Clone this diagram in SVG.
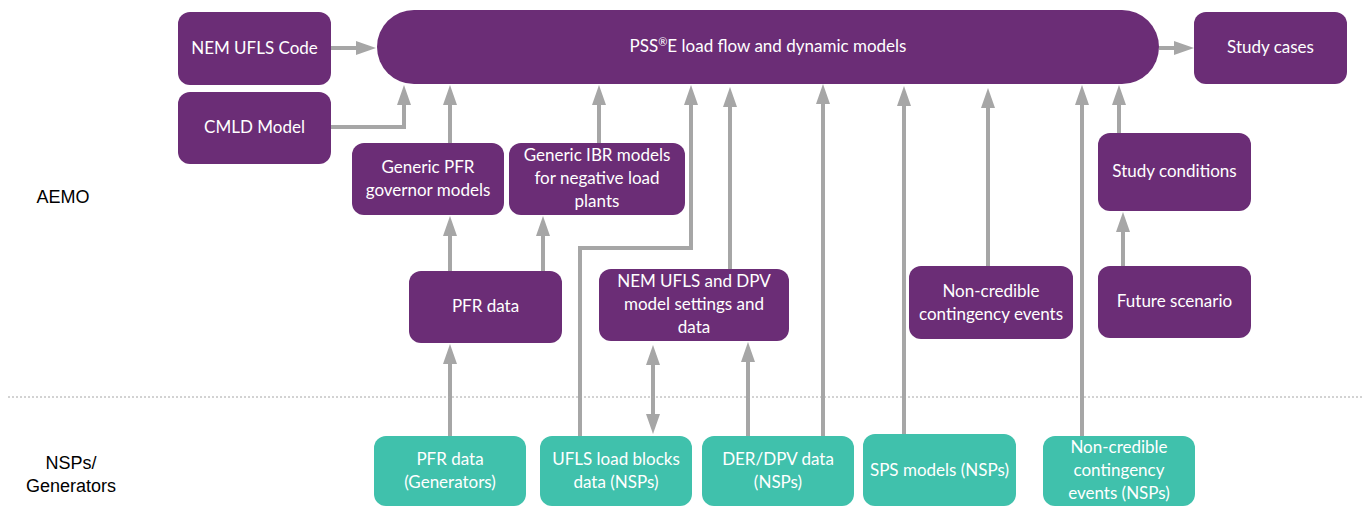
<svg xmlns="http://www.w3.org/2000/svg" width="1362" height="507" viewBox="0 0 1362 507">
<defs>
<style>
.p{fill:#6B2D76}
.t{fill:#40C1AC}
.lb{font-family:Lato,"Open Sans","Liberation Sans",sans-serif;font-size:17px;fill:#FFFFFF;text-anchor:middle}
.side{font-family:"Liberation Sans",Arial,sans-serif;font-size:18px;fill:#000000;text-anchor:middle}
.c{fill:none;stroke:#A6A6A6;stroke-width:4}
</style>
<marker id="ah" viewBox="0 0 20 14" refX="10" refY="7" markerWidth="20" markerHeight="14" markerUnits="userSpaceOnUse" orient="auto-start-reverse">
<path d="M0,0 L20,7 L0,14 z" fill="#A6A6A6"/>
</marker>
</defs>
<rect width="1362" height="507" fill="#FFFFFF"/>
<line x1="8" y1="397" x2="1362" y2="397" stroke="#A6A6A6" stroke-width="1" stroke-dasharray="2 2"/>
<text class="side" x="63" y="203">AEMO</text>
<text class="side" x="71" y="469">NSPs/</text>
<text class="side" x="71" y="492">Generators</text>
<g id="connectors">
<path class="c" d="M331,48 H366" marker-end="url(#ah)"/>
<path class="c" d="M331,127 H404 V95" marker-end="url(#ah)"/>
<path class="c" d="M450,143 V95" marker-end="url(#ah)"/>
<path class="c" d="M599,143 V95" marker-end="url(#ah)"/>
<path class="c" d="M580,436 V248 H691 V95" marker-end="url(#ah)"/>
<path class="c" d="M730,269 V97" marker-end="url(#ah)"/>
<path class="c" d="M823,436 V94" marker-end="url(#ah)"/>
<path class="c" d="M904,436 V96" marker-end="url(#ah)"/>
<path class="c" d="M988,266 V98" marker-end="url(#ah)"/>
<path class="c" d="M1082,436 V95" marker-end="url(#ah)"/>
<path class="c" d="M1119,133 V95" marker-end="url(#ah)"/>
<path class="c" d="M1159,48 H1184" marker-end="url(#ah)"/>
<path class="c" d="M1123,266 V222" marker-end="url(#ah)"/>
<path class="c" d="M450,271 V226" marker-end="url(#ah)"/>
<path class="c" d="M543,271 V226" marker-end="url(#ah)"/>
<path class="c" d="M450,436 V354" marker-end="url(#ah)"/>
<path class="c" d="M653,355 V424" marker-start="url(#ah)" marker-end="url(#ah)"/>
<path class="c" d="M748,436 V352" marker-end="url(#ah)"/>
</g>
<g id="pss">
<rect class="p" x="377" y="10" width="782" height="74" rx="37"/>
<text class="lb" x="768" y="52">PSS<tspan font-size="11" baseline-shift="super">®</tspan>E load flow and dynamic models</text>
</g>
<g id="nem-ufls-code">
<rect class="p" x="178" y="12" width="153" height="73" rx="12"/>
<text class="lb" x="254.5" y="54">NEM UFLS Code</text>
</g>
<g id="cmld">
<rect class="p" x="178" y="92" width="153" height="72" rx="12"/>
<text class="lb" x="254.5" y="133">CMLD Model</text>
</g>
<g id="generic-pfr">
<rect class="p" x="352" y="143" width="152" height="72" rx="12"/>
<text class="lb" x="428" y="173">Generic PFR</text>
<text class="lb" x="428" y="196">governor models</text>
</g>
<g id="generic-ibr">
<rect class="p" x="509" y="143" width="176" height="72" rx="12"/>
<text class="lb" x="597" y="161">Generic IBR models</text>
<text class="lb" x="597" y="184">for negative load</text>
<text class="lb" x="597" y="207">plants</text>
</g>
<g id="study-cases">
<rect class="p" x="1194" y="12" width="153" height="72" rx="12"/>
<text class="lb" x="1270.5" y="53">Study cases</text>
</g>
<g id="study-conditions">
<rect class="p" x="1098" y="133" width="153" height="78" rx="12"/>
<text class="lb" x="1174.5" y="177">Study conditions</text>
</g>
<g id="pfr-data">
<rect class="p" x="409" y="271" width="153" height="72" rx="12"/>
<text class="lb" x="485.5" y="312">PFR data</text>
</g>
<g id="nem-ufls-dpv">
<rect class="p" x="599" y="269" width="190" height="72" rx="12"/>
<text class="lb" x="694" y="287">NEM UFLS and DPV</text>
<text class="lb" x="694" y="310">model settings and</text>
<text class="lb" x="694" y="333">data</text>
</g>
<g id="non-credible">
<rect class="p" x="909" y="266" width="164" height="73" rx="12"/>
<text class="lb" x="991" y="297">Non-credible</text>
<text class="lb" x="991" y="320">contingency events</text>
</g>
<g id="future-scenario">
<rect class="p" x="1098" y="266" width="153" height="72" rx="12"/>
<text class="lb" x="1174.5" y="307">Future scenario</text>
</g>
<g id="pfr-generators">
<rect class="t" x="374" y="436" width="152" height="70" rx="12"/>
<text class="lb" x="450" y="465">PFR data</text>
<text class="lb" x="450" y="488">(Generators)</text>
</g>
<g id="ufls-load-blocks">
<rect class="t" x="540" y="436" width="152" height="70" rx="12"/>
<text class="lb" x="616" y="465">UFLS load blocks</text>
<text class="lb" x="616" y="488">data (NSPs)</text>
</g>
<g id="der-dpv">
<rect class="t" x="702" y="436" width="152" height="70" rx="12"/>
<text class="lb" x="778" y="465">DER/DPV data</text>
<text class="lb" x="778" y="488">(NSPs)</text>
</g>
<g id="sps-models">
<rect class="t" x="863" y="434" width="153" height="72" rx="12"/>
<text class="lb" x="939.5" y="476">SPS models (NSPs)</text>
</g>
<g id="non-credible-nsps">
<rect class="t" x="1043" y="436" width="152" height="70" rx="12"/>
<text class="lb" x="1119" y="453">Non-credible</text>
<text class="lb" x="1119" y="476">contingency</text>
<text class="lb" x="1119" y="499">events (NSPs)</text>
</g>
</svg>
